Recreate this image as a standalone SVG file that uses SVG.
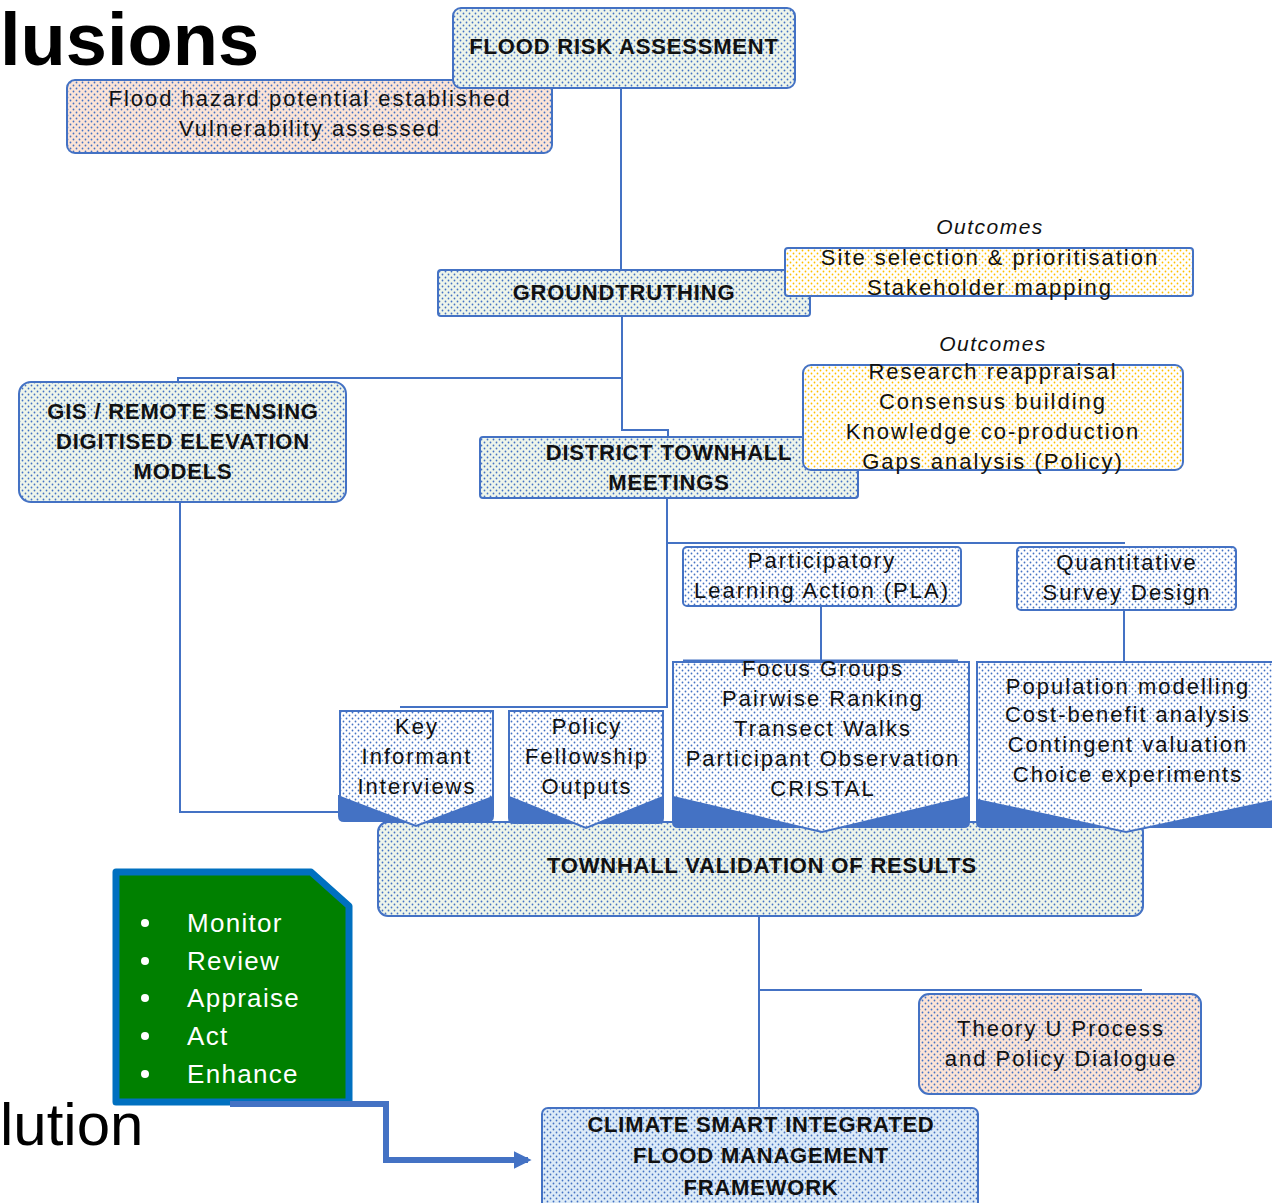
<svg xmlns="http://www.w3.org/2000/svg" width="1272" height="1203" viewBox="0 0 1272 1203">
<defs>
<pattern id="pMain" width="6" height="6" patternUnits="userSpaceOnUse"><rect width="6" height="6" fill="#eef5ea"/><circle cx="1.5" cy="1.5" r="0.9" fill="#4472c4"/><circle cx="4.5" cy="4.5" r="0.9" fill="#4472c4"/></pattern>
<pattern id="pPeach" width="6" height="6" patternUnits="userSpaceOnUse"><rect width="6" height="6" fill="#fce4d6"/><circle cx="1.5" cy="1.5" r="0.9" fill="#4472c4"/><circle cx="4.5" cy="4.5" r="0.9" fill="#4472c4"/></pattern>
<pattern id="pYellow" width="6" height="6" patternUnits="userSpaceOnUse"><rect width="6" height="6" fill="#ffffff"/><circle cx="1.5" cy="1.5" r="0.9" fill="#ffc000"/><circle cx="4.5" cy="4.5" r="0.9" fill="#ffc000"/></pattern>
<pattern id="pWhite" width="6" height="6" patternUnits="userSpaceOnUse"><rect width="6" height="6" fill="#ffffff"/><circle cx="1.5" cy="1.5" r="0.9" fill="#4472c4"/><circle cx="4.5" cy="4.5" r="0.9" fill="#4472c4"/></pattern>
<pattern id="pBlue" width="6" height="6" patternUnits="userSpaceOnUse"><rect width="6" height="6" fill="#ddebf7"/><circle cx="1.5" cy="1.5" r="0.9" fill="#4472c4"/><circle cx="4.5" cy="4.5" r="0.9" fill="#4472c4"/></pattern>
<marker id="arrow" viewBox="0 0 10 10" refX="8" refY="5" markerWidth="3" markerHeight="3" orient="auto" markerUnits="strokeWidth"><path d="M0,0 L10,5 L0,10 Z" fill="#4472c4"/></marker>
<style>
.box{stroke:#4472c4;stroke-width:2}
.main{fill:url(#pMain)}
.peach{fill:url(#pPeach)}
.yel{fill:url(#pYellow)}
.wht{fill:url(#pWhite)}
.blu{fill:url(#pBlue)}
.line{fill:none;stroke:#4472c4;stroke-width:2}
.hd{font-family:"Liberation Sans",Arial,sans-serif;font-weight:bold;font-size:22px;letter-spacing:0.8px;text-anchor:middle;fill:#111}
.tx{font-family:"Liberation Sans",Arial,sans-serif;font-size:22px;letter-spacing:2px;text-anchor:middle;fill:#111}
.it{font-family:"Liberation Sans",Arial,sans-serif;font-style:italic;font-size:21px;letter-spacing:1.5px;text-anchor:middle;fill:#111}
.gl{font-family:"Liberation Sans",Arial,sans-serif;font-size:26px;letter-spacing:1.3px;fill:#ffffff}
.big{font-family:"Liberation Sans",Arial,sans-serif;fill:#000}
.shade{fill:#4472c4}
</style>
</defs>
<rect width="1272" height="1203" fill="#ffffff"/>

<text class="big" x="0" y="65" font-size="74" font-weight="bold">lusions</text>
<text class="big" x="0" y="1145" font-size="60">lution</text>

<g id="connectors">
<path class="line" d="M621,88 V270"/>
<path class="line" d="M622,316 V430 H668 V437"/>
<path class="line" d="M622,378 H178 V382"/>
<path class="line" d="M667,498 V707 H400"/>
<path class="line" d="M667,543 H1125"/>
<path class="line" d="M821,606 V660"/>
<path class="line" d="M1124,610 V662"/>
<path class="line" d="M180,502 V812 H340"/>
<path class="line" d="M759,916 V1108"/>
<path class="line" d="M759,990 H1142"/>
</g>

<g id="flood-outcomes">
<rect class="box peach" x="67" y="80" width="485" height="73" rx="8"/>
<text class="tx" x="310" y="106">Flood hazard potential established</text>
<text class="tx" x="310" y="136">Vulnerability assessed</text>
</g>
<g id="flood-risk-assessment">
<rect class="box main" x="453" y="8" width="342" height="80" rx="8"/>
<text class="hd" x="624" y="54">FLOOD RISK ASSESSMENT</text>
</g>

<g id="groundtruthing">
<rect class="box main" x="438" y="270" width="372" height="46" rx="3"/>
<text class="hd" x="624" y="300">GROUNDTRUTHING</text>
</g>
<g id="gt-outcomes">
<text class="it" x="990" y="234">Outcomes</text>
<rect class="box yel" x="785" y="248" width="408" height="48" rx="3"/>
<text class="tx" x="990" y="265">Site selection &amp; prioritisation</text>
<text class="tx" x="990" y="295">Stakeholder mapping</text>
</g>

<g id="gis">
<rect class="box main" x="19" y="382" width="327" height="120" rx="12"/>
<text class="hd" x="183" y="419">GIS / REMOTE SENSING</text>
<text class="hd" x="183" y="449">DIGITISED ELEVATION</text>
<text class="hd" x="183" y="479">MODELS</text>
</g>

<g id="district-townhall">
<rect class="box main" x="480" y="437" width="378" height="61" rx="3"/>
<text class="hd" x="669" y="460">DISTRICT TOWNHALL</text>
<text class="hd" x="669" y="490">MEETINGS</text>
</g>
<g id="district-outcomes">
<text class="it" x="993" y="351">Outcomes</text>
<rect class="box yel" x="803" y="365" width="380" height="105" rx="8"/>
<text class="tx" x="993" y="379">Research reappraisal</text>
<text class="tx" x="993" y="409">Consensus building</text>
<text class="tx" x="993" y="439">Knowledge co-production</text>
<text class="tx" x="993" y="469">Gaps analysis (Policy)</text>
</g>

<g id="pla">
<rect class="box wht" x="683" y="547" width="278" height="59" rx="4"/>
<text class="tx" x="822" y="568">Participatory</text>
<text class="tx" x="822" y="598">Learning Action (PLA)</text>
</g>
<g id="quantitative">
<rect class="box wht" x="1017" y="547" width="219" height="63" rx="4"/>
<text class="tx" x="1127" y="570">Quantitative</text>
<text class="tx" x="1127" y="600">Survey Design</text>
</g>

<g id="townhall-validation">
<rect class="box main" x="378" y="822" width="765" height="94" rx="10"/>
<text class="hd" x="762" y="873">TOWNHALL VALIDATION OF RESULTS</text>
</g>

<g id="key-informant">
<path class="shade" d="M338,795 V816 Q338,822 344,822 H488 Q494,822 494,816 V795 Z"/>
<path class="box wht" d="M340,711 H493 V797 L416,826 L340,797 Z" stroke-width="1.5"/>
<text class="tx" x="417" y="734">Key</text>
<text class="tx" x="417" y="764">Informant</text>
<text class="tx" x="417" y="794">Interviews</text>
</g>
<g id="policy-fellowship">
<path class="shade" d="M508,795 V818 Q508,824 514,824 H658 Q664,824 664,818 V795 Z"/>
<path class="box wht" d="M509,711 H663 V797 L586,828 L509,797 Z" stroke-width="1.5"/>
<text class="tx" x="587" y="734">Policy</text>
<text class="tx" x="587" y="764">Fellowship</text>
<text class="tx" x="587" y="794">Outputs</text>
</g>
<g id="pla-methods">
<path class="shade" d="M672,795 V822 Q672,828 678,828 H964 Q970,828 970,822 V795 Z"/>
<path class="box wht" d="M673,662 H969 V797 L822,832 L673,797 Z" stroke-width="1.5"/>
<path d="M683,661 H958" stroke="#4472c4" stroke-width="3"/>
<text class="tx" x="823" y="676">Focus Groups</text>
<text class="tx" x="823" y="706">Pairwise Ranking</text>
<text class="tx" x="823" y="736">Transect Walks</text>
<text class="tx" x="823" y="766">Participant Observation</text>
<text class="tx" x="823" y="796">CRISTAL</text>
</g>
<g id="quant-methods">
<path class="shade" d="M976,798 V822 Q976,828 982,828 H1276 V798 Z"/>
<path class="box wht" d="M977,662 H1278 V800 L1126,832 L977,800 Z" stroke-width="1.5"/>
<text class="tx" x="1128" y="694">Population modelling</text>
<text class="tx" x="1128" y="722">Cost-benefit analysis</text>
<text class="tx" x="1128" y="752">Contingent valuation</text>
<text class="tx" x="1128" y="782">Choice experiments</text>
</g>

<g id="theory-u">
<rect class="box peach" x="919" y="994" width="282" height="100" rx="10"/>
<text class="tx" x="1061" y="1036">Theory U Process</text>
<text class="tx" x="1061" y="1066">and Policy Dialogue</text>
</g>

<g id="csifm">
<rect class="box blu" x="542" y="1108" width="436" height="100" rx="6"/>
<text class="hd" x="761" y="1132">CLIMATE SMART INTEGRATED</text>
<text class="hd" x="761" y="1163">FLOOD MANAGEMENT</text>
<text class="hd" x="761" y="1195">FRAMEWORK</text>
</g>

<g id="monitor-list">
<path d="M116,872 H311 L349,906 V1102 H116 Z" fill="#008000" stroke="#0070c0" stroke-width="7" stroke-linejoin="round"/>
<circle cx="145" cy="923" r="4" fill="#fff"/>
<circle cx="145" cy="961" r="4" fill="#fff"/>
<circle cx="145" cy="998" r="4" fill="#fff"/>
<circle cx="145" cy="1036" r="4" fill="#fff"/>
<circle cx="145" cy="1074" r="4" fill="#fff"/>
<text class="gl" x="187" y="932">Monitor</text>
<text class="gl" x="187" y="970">Review</text>
<text class="gl" x="187" y="1007">Appraise</text>
<text class="gl" x="187" y="1045">Act</text>
<text class="gl" x="187" y="1083">Enhance</text>
</g>

<g id="feedback-connector">
<path d="M230,1104 H386 V1160 H528" fill="none" stroke="#4472c4" stroke-width="6" marker-end="url(#arrow)"/>
</g>
</svg>
